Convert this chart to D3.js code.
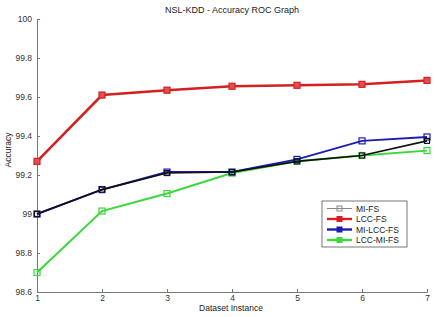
<!DOCTYPE html>
<html>
<head>
<meta charset="utf-8">
<script src="https://cdn.jsdelivr.net/npm/d3@7"></script>
<style>
  body { margin: 0; background: #fff; }
  text { font-family: "Liberation Sans", Arial, sans-serif; }
</style>
</head>
<body>
<svg id="chart"></svg>
<script>
// dataset instances
const instances = [1, 2, 3, 4, 5, 6, 7];
const series_names = ["MI-FS", "LCC-FS", "MI-LCC-FS", "LCC-MI-FS"];
const mi_fs = [99.0, 99.125, 99.21, 99.215, 99.27, 99.30, 99.375];
const lcc_fs = [99.27, 99.61, 99.635, 99.655, 99.66, 99.665, 99.685];
const mi_lcc_fs = [99.0, 99.125, 99.215, 99.215, 99.28, 99.375, 99.395];
const lcc_mi_fs = [98.70, 99.015, 99.105, 99.21, 99.27, 99.30, 99.325];
const y_ticks = [98.6, 98.8, 99, 99.2, 99.4, 99.6, 99.8, 100];

let width = 437;
let height = 317;

const svg = d3.select("#chart").attr("width", width).attr("height", height);

var x = d3.scaleLinear().domain([1, 7]).range([37, 427]);
var y = d3.scaleLinear().domain([98.6, 100]).range([292, 19]);

// axes (left and bottom only)
var x_axis = svg.append("g")
    .attr("transform", "translate(0," + y(98.6) + ")")
    .call(d3.axisBottom(x).tickValues(instances).tickSize(-3).tickPadding(3).tickFormat(d3.format("d")));
var y_axis = svg.append("g")
    .attr("transform", "translate(" + x(1) + ",0)")
    .call(d3.axisLeft(y).tickValues(y_ticks).tickSize(-3).tickPadding(5).tickFormat(d => String(d)));

[x_axis, y_axis].forEach(a => {
    a.select(".domain").attr("stroke", "#777").attr("stroke-width", 1);
    a.selectAll(".tick line").attr("stroke", "#777");
    a.selectAll(".tick text").attr("fill", "#333").style("font-size", "8.5px");
});

const series = [
    { name: series_names[0], values: mi_fs, color: "#111111", width: 1.6, marker_fill: "none", marker_size: 5 },
    { name: series_names[1], values: lcc_fs, color: "#d42020", width: 2.6, marker_fill: "#e05050", marker_size: 6 },
    { name: series_names[2], values: mi_lcc_fs, color: "#1c1cb4", width: 2.0, marker_fill: "none", marker_size: 6 },
    { name: series_names[3], values: lcc_mi_fs, color: "#3ad83a", width: 2.0, marker_fill: "none", marker_size: 6 }
];

var line = d3.line()
    .x((d, i) => x(instances[i]))
    .y(d => y(d));

// draw in order so black sits on top of blue/green like the original
const draw_order = [1, 3, 2, 0];
draw_order.forEach(k => {
    let s = series[k];
    svg.append("path")
        .datum(s.values)
        .attr("d", line)
        .attr("fill", "none")
        .attr("stroke", s.color)
        .attr("stroke-width", s.width);

    svg.selectAll(null).data(s.values).enter().append("rect")
        .attr("x", (d, i) => x(instances[i]) - s.marker_size / 2)
        .attr("y", d => y(d) - s.marker_size / 2)
        .attr("width", s.marker_size)
        .attr("height", s.marker_size)
        .attr("fill", s.marker_fill)
        .attr("stroke", s.color)
        .attr("stroke-width", 1.2);
});

// title and axis labels
svg.append("text")
    .attr("x", 232).attr("y", 13)
    .attr("text-anchor", "middle")
    .style("font-size", "9px").attr("fill", "#222")
    .text("NSL-KDD - Accuracy ROC Graph");

svg.append("text")
    .attr("x", 231).attr("y", 311)
    .attr("text-anchor", "middle")
    .style("font-size", "8.5px").attr("fill", "#222")
    .text("Dataset Instance");

svg.append("text")
    .attr("transform", "translate(11,150) rotate(-90)")
    .attr("text-anchor", "middle")
    .style("font-size", "8.5px").attr("fill", "#222")
    .text("Accuracy");

// legend
let lg = svg.append("g").attr("transform", "translate(322,201)");
lg.append("rect")
    .attr("width", 85).attr("height", 46)
    .attr("fill", "#fff").attr("stroke", "#555").attr("stroke-width", 0.8);

series.forEach((s, i) => {
    let yy = 7.5 + i * 10.5;
    lg.append("line")
        .attr("x1", 5).attr("x2", 30).attr("y1", yy).attr("y2", yy)
        .attr("stroke", i == 0 ? "#888" : s.color)
        .attr("stroke-width", i == 0 ? 1 : 2.4);
    lg.append("rect")
        .attr("x", 17.5 - 2.5).attr("y", yy - 2.5)
        .attr("width", 5).attr("height", 5)
        .attr("fill", i == 0 ? "none" : s.color)
        .attr("stroke", i == 0 ? "#888" : s.color);
    lg.append("text")
        .attr("x", 34).attr("y", yy + 3)
        .style("font-size", "8.5px").attr("fill", "#222")
        .text(s.name);
});
</script>
</body>
</html>
